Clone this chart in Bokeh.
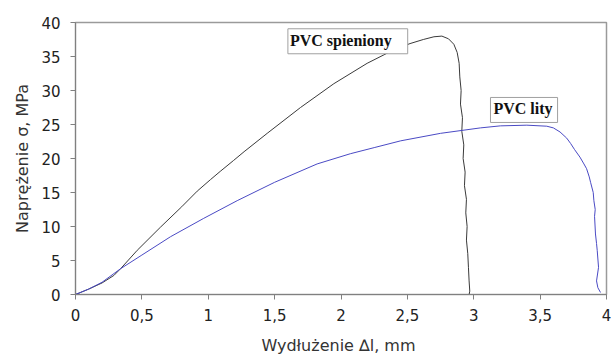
from bokeh.plotting import figure
from bokeh.models import Label, FixedTicker, Range1d
from bokeh.embed import file_html
from bokeh.resources import INLINE

# PVC spieniony (foamed) - black curve
spien_x = [0, 0.1, 0.2, 0.289, 0.34, 0.465, 0.64, 0.80, 0.917, 1.017, 1.09, 1.19, 1.27,
           1.444, 1.695, 1.946, 2.197, 2.40, 2.52, 2.62, 2.70, 2.76, 2.81, 2.85, 2.875,
           2.89, 2.895, 2.905, 2.90, 2.915, 2.91, 2.925, 2.92, 2.935, 2.93, 2.945, 2.94,
           2.95, 2.945, 2.955, 2.96, 2.965, 2.97, 2.965]
spien_y = [0, 0.8, 1.7, 2.8, 3.8, 6.5, 9.9, 12.9, 15.2, 16.9, 18.1, 19.7, 21.0,
           23.7, 27.5, 31.0, 34.0, 36.0, 36.9, 37.5, 37.9, 38.0, 37.6, 36.8, 35.6,
           34.0, 32.0, 30.0, 28.0, 26.0, 24.0, 22.0, 20.0, 18.0, 16.0, 14.0, 12.0,
           10.0, 8.0, 6.0, 4.0, 2.0, 0.5, 0]

# PVC lity (solid) - blue curve
lity_x = [0, 0.1, 0.2, 0.34, 0.5, 0.716, 0.966, 1.218, 1.5, 1.82, 2.07, 2.25, 2.45,
          2.75, 3.05, 3.2, 3.4, 3.55, 3.6, 3.65, 3.70, 3.73, 3.76, 3.80, 3.83, 3.85,
          3.87, 3.88, 3.90, 3.905, 3.915, 3.91, 3.917, 3.925, 3.93, 3.94, 3.925,
          3.935, 3.955]
lity_y = [0, 0.8, 1.8, 3.8, 5.8, 8.5, 11.2, 13.8, 16.5, 19.2, 20.7, 21.6, 22.6,
          23.7, 24.5, 24.8, 24.9, 24.75, 24.5, 23.9, 23.0, 22.2, 21.3, 20.2, 19.2, 18.5,
          17.3, 16.5, 15.0, 13.8, 12.5, 11.5, 8.9, 7.5, 6.5, 4.0, 2.0, 1.0, 0.3]

x_ticks = [0, 0.5, 1, 1.5, 2, 2.5, 3, 3.5, 4]
x_tick_labels = ["0", "0,5", "1", "1,5", "2", "2,5", "3", "3,5", "4"]
y_ticks = [0, 5, 10, 15, 20, 25, 30, 35, 40]

p = figure(width=611, height=362, output_backend="svg", toolbar_location=None,
           x_range=Range1d(0, 4), y_range=Range1d(0, 40),
           min_border_left=75, min_border_right=5, min_border_top=22, min_border_bottom=68)

p.line(spien_x, spien_y, line_color="#3a3a3a", line_width=1)
p.line(lity_x, lity_y, line_color="#4a4ac4", line_width=1)

p.xgrid.visible = False
p.ygrid.visible = False
p.outline_line_color = "#9a9a9a"
p.outline_line_width = 1.5

for ax in (p.xaxis[0], p.yaxis[0]):
    ax.axis_line_color = "#808080"
    ax.major_tick_line_color = "#808080"
    ax.minor_tick_line_color = None
    ax.major_tick_in = 0
    ax.major_tick_out = 5
    ax.major_label_text_font = "DejaVu Sans"
    ax.major_label_text_font_size = "15px"
    ax.major_label_text_color = "#222222"
    ax.axis_label_text_font = "DejaVu Sans"
    ax.axis_label_text_font_size = "16px"
    ax.axis_label_text_font_style = "normal"
    ax.axis_label_text_color = "#333333"

p.xaxis.ticker = FixedTicker(ticks=x_ticks)
p.xaxis.major_label_overrides = {t: l for t, l in zip(x_ticks, x_tick_labels)}
p.yaxis.ticker = FixedTicker(ticks=y_ticks)
p.yaxis.major_label_overrides = {t: str(t) for t in y_ticks}
p.xaxis.major_label_standoff = 9
p.yaxis.major_label_standoff = 10
p.xaxis.axis_label = "Wydłużenie  ∆l, mm"
p.yaxis.axis_label = "Naprężenie σ, MPa"
p.xaxis.axis_label_standoff = 12
p.yaxis.axis_label_standoff = 6

lab1 = Label(x=1.60, y=35.4, text="PVC spieniony", text_font="Liberation Serif",
             text_font_style="bold", text_font_size="16px", text_color="#111111",
             text_align="left", text_baseline="bottom",
             border_line_color="#a0a0a0", border_line_width=1, background_fill_color="white",
             padding=dict(left=2, right=16, top=3, bottom=5))
lab2 = Label(x=3.126, y=25.3, text="PVC lity", text_font="Liberation Serif",
             text_font_style="bold", text_font_size="16px", text_color="#111111",
             text_align="left", text_baseline="bottom",
             border_line_color="#a0a0a0", border_line_width=1, background_fill_color="white",
             padding=dict(left=3, right=5, top=3, bottom=5))
p.add_layout(lab1)
p.add_layout(lab2)

open("out.html", "w").write(file_html(p, INLINE))
